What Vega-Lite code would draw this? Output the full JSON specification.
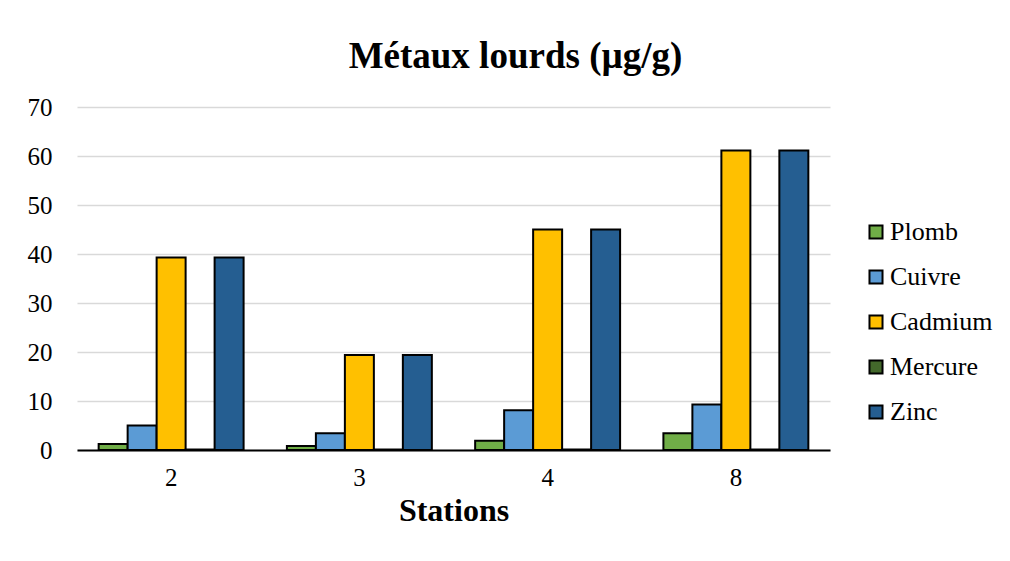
{
  "$schema": "https://vega.github.io/schema/vega-lite/v6.json",
  "width": 753,
  "height": 343,
  "autosize": {"type": "none"},
  "padding": {"left": 77, "top": 107, "right": 180, "bottom": 111},
  "background": "white",
  "title": {
    "text": "Métaux lourds (µg/g)",
    "font": "Liberation Serif",
    "fontSize": 37,
    "fontWeight": "bold",
    "color": "black",
    "anchor": "middle",
    "dx": 62,
    "offset": 19
  },
  "data": {
    "values": [
      {"station": "2", "metal": "Plomb", "value": 1.2},
      {"station": "2", "metal": "Cuivre", "value": 5.0},
      {"station": "2", "metal": "Cadmium", "value": 39.3},
      {"station": "2", "metal": "Mercure", "value": 0.1},
      {"station": "2", "metal": "Zinc", "value": 39.3},
      {"station": "3", "metal": "Plomb", "value": 0.8},
      {"station": "3", "metal": "Cuivre", "value": 3.4},
      {"station": "3", "metal": "Cadmium", "value": 19.4},
      {"station": "3", "metal": "Mercure", "value": 0.1},
      {"station": "3", "metal": "Zinc", "value": 19.4},
      {"station": "4", "metal": "Plomb", "value": 1.9},
      {"station": "4", "metal": "Cuivre", "value": 8.1},
      {"station": "4", "metal": "Cadmium", "value": 45.0},
      {"station": "4", "metal": "Mercure", "value": 0.1},
      {"station": "4", "metal": "Zinc", "value": 45.0},
      {"station": "8", "metal": "Plomb", "value": 3.4},
      {"station": "8", "metal": "Cuivre", "value": 9.3},
      {"station": "8", "metal": "Cadmium", "value": 61.1},
      {"station": "8", "metal": "Mercure", "value": 0.1},
      {"station": "8", "metal": "Zinc", "value": 61.1}
    ]
  },
  "mark": {"type": "bar", "stroke": "black", "strokeWidth": 2},
  "encoding": {
    "x": {
      "field": "station",
      "type": "nominal",
      "sort": ["2", "3", "4", "8"],
      "scale": {"paddingInner": 0.23, "paddingOuter": 0.115},
      "axis": {
        "title": "Stations",
        "titleFont": "Liberation Serif",
        "titleFontSize": 32,
        "titleFontWeight": "bold",
        "titleColor": "black",
        "titlePadding": 5,
        "labelFont": "Liberation Serif",
        "labelFontSize": 25,
        "labelColor": "black",
        "labelAngle": 0,
        "labelPadding": 15,
        "ticks": false,
        "domainColor": "black",
        "domainWidth": 2,
        "grid": false
      }
    },
    "xOffset": {
      "field": "metal",
      "type": "nominal",
      "sort": ["Plomb", "Cuivre", "Cadmium", "Mercure", "Zinc"],
      "scale": {"paddingInner": 0, "paddingOuter": 0}
    },
    "y": {
      "field": "value",
      "type": "quantitative",
      "scale": {"domain": [0, 70]},
      "axis": {
        "title": null,
        "values": [0, 10, 20, 30, 40, 50, 60, 70],
        "labelFont": "Liberation Serif",
        "labelFontSize": 25,
        "labelColor": "black",
        "labelPadding": 25,
        "ticks": false,
        "domain": false,
        "gridColor": "#d9d9d9",
        "gridWidth": 1.5
      }
    },
    "color": {
      "field": "metal",
      "type": "nominal",
      "sort": ["Plomb", "Cuivre", "Cadmium", "Mercure", "Zinc"],
      "scale": {
        "domain": ["Plomb", "Cuivre", "Cadmium", "Mercure", "Zinc"],
        "range": ["#70AD47", "#5B9BD5", "#FFC000", "#43682B", "#255E91"]
      },
      "legend": {
        "title": null,
        "orient": "none",
        "legendX": 786,
        "legendY": 112,
        "symbolType": "square",
        "symbolSize": 170,
        "symbolStrokeColor": "black",
        "symbolStrokeWidth": 2,
        "labelFont": "Liberation Serif",
        "labelFontSize": 26,
        "labelColor": "black",
        "labelOffset": 1,
        "rowPadding": 19
      }
    }
  },
  "config": {
    "view": {"stroke": null},
    "font": "Liberation Serif",
    "legend": {"labelFont": "Liberation Serif"}
  }
}
